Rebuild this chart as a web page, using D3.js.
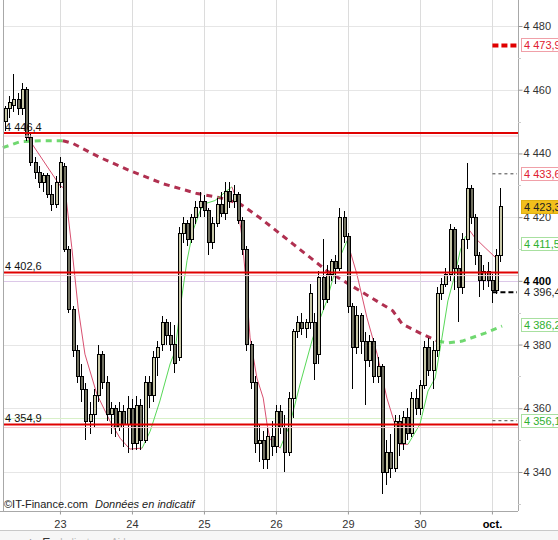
<!DOCTYPE html>
<html><head><meta charset="utf-8">
<script src="https://cdn.jsdelivr.net/npm/d3@7"></script>
<style>body{margin:0;background:#fff}svg{display:block;font-family:Arial,"Liberation Sans",sans-serif}</style>
</head><body><svg id="c" width="558" height="540"></svg>
<script>
// ---- DATA (30-min bars) ----
const opens =[4450,4454,4455,4457,4454,4460,4445,4437,4434,4431,4433,4427,4424,
4431,4436,4410,4391,4378,4370,4366,4356,4358,4364,4377,4368,4358,4360,4354,4359,4355,
4360,4349,4361,4350,4368,4364,4376,4380,4387,4383,4380,4376,4415,4418,4413,4420,4423,
4425,4422,4412,4418,4424,4421,4428,4425,4427,4419,4410,4380,4368,4349,4350,4344,4351,
4348,4359,4354,4346,4363,4384,4387,4385,4387,4387,4377,4401,4394,4402,4406,4404,4420,
4414,4392,4379,4389,4381,4375,4381,4370,4373,4340,4346,4341,4356,4349,4357,4352,4363,
4360,4367,4379,4372,4378,4396,4399,4402,4416,4404,4398,4413,4429,4420,4408,4400,4403,
4400,4397,4408];
const highs =[4455,4458,4465,4459,4462,4461,4446,4439,4436,4434,4434,4430,4433,
4439,4437,4411,4392,4380,4374,4368,4362,4366,4380,4378,4370,4362,4361,4362,4361,4364,
4363,4364,4363,4370,4370,4378,4381,4389,4388,4387,4386,4417,4420,4419,4421,4425,4428,
4427,4423,4420,4426,4428,4431,4431,4430,4428,4420,4411,4381,4370,4355,4353,4354,4356,
4361,4361,4358,4365,4385,4389,4390,4388,4399,4390,4403,4413,4405,4407,4408,4423,4422,
4415,4393,4392,4390,4384,4383,4382,4376,4374,4350,4352,4358,4358,4359,4360,4365,4366,
4369,4381,4382,4381,4398,4401,4404,4418,4417,4405,4415,4437,4430,4421,4409,4405,4406,
4402,4410,4429];
const lows  =[4447,4451,4453,4452,4452,4444,4436,4432,4429,4428,4426,4422,4423,
4429,4409,4390,4376,4368,4362,4350,4352,4354,4362,4366,4356,4352,4351,4353,4348,4346,
4347,4347,4347,4349,4360,4362,4370,4378,4380,4378,4371,4375,4412,4411,4412,4418,4420,
4420,4408,4410,4417,4420,4419,4423,4423,4418,4408,4378,4366,4346,4343,4341,4341,4345,
4346,4352,4340,4345,4357,4382,4383,4382,4385,4369,4374,4391,4393,4400,4399,4403,4412,
4390,4366,4377,4377,4361,4373,4368,4368,4333,4336,4338,4340,4345,4347,4350,4351,4358,
4358,4366,4370,4366,4376,4394,4398,4400,4397,4387,4396,4410,4418,4405,4395,4397,4398,
4393,4396,4406];
const closes=[4454,4456,4457,4454,4460,4445,4437,4434,4431,4433,4427,4424,4431,
4437,4410,4391,4378,4370,4366,4356,4358,4364,4377,4368,4358,4360,4354,4359,4355,4360,
4349,4361,4350,4368,4364,4376,4379,4387,4383,4380,4374,4415,4418,4413,4420,4423,4425,
4422,4412,4418,4424,4421,4428,4425,4427,4419,4410,4380,4368,4349,4350,4344,4351,4348,
4359,4354,4346,4363,4384,4387,4385,4387,4396,4374,4401,4394,4402,4406,4404,4420,4414,
4392,4379,4389,4381,4375,4381,4370,4373,4340,4346,4341,4356,4349,4357,4352,4363,4360,
4367,4379,4372,4378,4396,4399,4402,4416,4404,4398,4413,4429,4420,4408,4400,4403,4400,
4397,4408,4423.3];

const dayLabels=["23","24","25","26","29","30","oct."];
const dayStart =[13,30,47,64,81,98,115];
const yTicks=[4340,4360,4380,4400,4420,4440,4460,4480];
const minorTicks=[4330,4350,4370,4390,4410,4430,4450,4470];
const levels=[4446.4,4402.6,4354.9];

// thick dashed long moving average (vertices: [bar, value])
const maGreen1=[[-0.5,4441.8],[3.6,4443.7],[8.3,4444],[13.7,4444]];
const maRed   =[[13.7,4444],[16.1,4443.1],[22.5,4438.7],[29.5,4434.6],[37.3,4430.5],[45.4,4427.4],
[50.8,4426.1],[55.5,4424.2],[60.2,4419.8],[68,4411.6],[76.1,4403.1],[83.8,4396.9],[91.6,4390.6],
[93.8,4386.5],[98.5,4383.3],[102.3,4381.1]];
const maGreen2=[[102.3,4381.1],[104.6,4380.5],[108,4381.1],[113.4,4383.6],[117.4,4385.8]];

// thin short indicator line segments
const fastRed1=[[5.4,4445],[13,4429.9],[14.2,4428.9],[15.8,4410.4],[17.3,4391.5],[18.9,4377],[21.7,4364.5],
[24.8,4356],[27.2,4350.6],[29.5,4347.2],[32.4,4347.5]];
const fastGreen1=[[32.4,4347.5],[34.3,4352.8],[36.6,4362.3],[39,4373.9],[40.2,4378],[41.3,4390.6],[43,4406.3],
[44.4,4415.7],[46.1,4422],[47.2,4424.2],[49.6,4425.2],[52.4,4428.3],[53.6,4429.5]];
const fastRed2=[[53.6,4429.5],[54.8,4425.2],[56,4413.5],[56.7,4403.1],[57.9,4382.1],[59.5,4369.5],[61,4363.2],
[61.9,4355],[62.6,4350.3],[65,4347.5]];
const fastGreen2=[[65,4347.5],[67.3,4355],[69.7,4367.6],[72.7,4382.1],[76,4393.7],[78.4,4405.3],[80.8,4412.6]];
const fastRed3=[[80.8,4412.6],[83.1,4402.2],[85.5,4388.4],[87.9,4377],[90.2,4363.2],[92.1,4355],[93.3,4348.7],[95.2,4348.7]];
const fastGreen3=[[95.2,4348.7],[98,4355],[99.9,4365.4],[101.6,4369.5],[103.2,4382.1],[104.6,4393.7],[106.3,4402.2],
[107.5,4409.4],[108.6,4413.5],[109.8,4415.7]];
const fastRed4=[[109.8,4415.7],[111,4413.5],[113.4,4410.4],[116.2,4406.9]];

// right-hand value tags
const tagValues=[4473.9,4433.6,4423.3,4411.5,4396.4,4386.2,4356.1];
const tagKinds =["red","red","last","green","plain","green","green"];

// ---- DRAW ----
const svg=d3.select("#c");
const W=558,H=540, L=3, R=518, B=511;
const x=d3.scaleLinear().domain([0,117]).range([4.9,4.9+117*4.235]);
const y=d3.scaleLinear().domain([4340,4480]).range([472,26]);
const loc=d3.formatLocale({decimal:",",thousands:"\u00a0",grouping:[3],currency:["","€"]});
const fInt=loc.format(",.0f"), f1=loc.format(",.1f");

svg.append("rect").attr("width",W).attr("height",H).attr("fill","#fff");

const plot=svg.append("g");
// gridlines
plot.selectAll("line.hg").data(yTicks).join("line")
  .attr("x1",L).attr("x2",R).attr("y1",d=>Math.round(y(d))+0.5).attr("y2",d=>Math.round(y(d))+0.5)
  .attr("stroke",d=>d===4400?"#dcc8e8":"#e6e6e6");
plot.selectAll("line.vg").data(dayStart).join("line")
  .attr("x1",d=>Math.round(x(d))+0.5).attr("x2",d=>Math.round(x(d))+0.5).attr("y1",0).attr("y2",B)
  .attr("stroke","#dcdcdc");
plot.append("line").attr("x1",L).attr("x2",R).attr("y1",Math.round(y(4356.1))-2.5).attr("y2",Math.round(y(4356.1))-2.5)
  .attr("stroke","#d8f0c8");

// frame
svg.append("line").attr("x1",L+0.5).attr("x2",L+0.5).attr("y1",0).attr("y2",B).attr("stroke","#a8a8a8");
svg.append("line").attr("x1",R+0.5).attr("x2",R+0.5).attr("y1",0).attr("y2",B).attr("stroke","#a8a8a8");
svg.append("line").attr("x1",0).attr("x2",R).attr("y1",B+0.5).attr("y2",B+0.5).attr("stroke","#a8a8a8");

// long MA dashed
const ln=d3.line().x(d=>x(d[0])).y(d=>y(d[1]));
[[maGreen1,"#70d870"],[maRed,"#b03050"],[maGreen2,"#70d870"]].forEach(([pts,c])=>{
  plot.append("path").attr("d",ln(pts)).attr("fill","none").attr("stroke",c)
    .attr("stroke-width",3).attr("stroke-dasharray","6,5");
});

// thin indicator
[[fastRed1,"#d85070"],[fastGreen1,"#58d858"],[fastRed2,"#d85070"],[fastGreen2,"#58d858"],
 [fastRed3,"#d85070"],[fastGreen3,"#58d858"],[fastRed4,"#d85070"]].forEach(([pts,c])=>{
  plot.append("path").attr("d",ln(pts)).attr("fill","none").attr("stroke",c).attr("stroke-width",1);
});

// candles
const idx=d3.range(closes.length);
const cg=plot.append("g").attr("shape-rendering","crispEdges");
cg.selectAll("line.w").data(idx).join("line")
  .attr("x1",i=>Math.round(x(i))+0.5).attr("x2",i=>Math.round(x(i))+0.5)
  .attr("y1",i=>y(highs[i])).attr("y2",i=>y(lows[i])).attr("stroke","#000");
cg.selectAll("rect.b").data(idx).join("rect")
  .attr("x",i=>Math.round(x(i))-1).attr("width",3)
  .attr("y",i=>y(Math.max(opens[i],closes[i])))
  .attr("height",i=>Math.max(1,Math.abs(y(opens[i])-y(closes[i]))))
  .attr("fill",i=>closes[i]>=opens[i]?"#c8c8a8":"#707060")
  .attr("stroke","#000").attr("stroke-width",1);

// support/resistance levels
plot.selectAll("line.lv").data(levels).join("line")
  .attr("x1",L).attr("x2",R).attr("y1",d=>y(d)).attr("y2",d=>y(d))
  .attr("stroke","#e00000").attr("stroke-width",2);
plot.selectAll("line.lv2").data(levels).join("line")
  .attr("x1",L).attr("x2",R).attr("y1",d=>y(d)+3).attr("y2",d=>y(d)+3)
  .attr("stroke","#f6c8d0").attr("stroke-width",1);
plot.selectAll("text.lv").data(levels).join("text")
  .attr("x",5).attr("y",d=>y(d)-2.5).attr("font-size",11).attr("fill","#111")
  .text(d=>f1(d));

// right axis
const ax=svg.append("g").attr("transform",`translate(${R+0.5},0)`)
  .call(d3.axisRight(y).tickValues(yTicks).tickSize(4).tickFormat(fInt));
ax.select(".domain").remove();
ax.selectAll("line").attr("stroke","#999");
ax.selectAll("text").attr("font-size",11).attr("fill","#333").attr("x",5)
  .attr("font-family","Arial,'Liberation Sans',sans-serif")
  .attr("font-weight",d=>d===4400?"bold":"normal").attr("fill",d=>d===4400?"#000":"#333");
svg.append("g").selectAll("line").data(minorTicks).join("line")
  .attr("x1",R).attr("x2",R+3).attr("y1",d=>Math.round(y(d))+0.5).attr("y2",d=>Math.round(y(d))+0.5)
  .attr("stroke","#ccc");

// right markers
const mk=svg.append("g");
const mx1=x(115)+0.5, mx2=R-1;
mk.append("line").attr("x1",mx1).attr("x2",mx2).attr("y1",y(4473.9)).attr("y2",y(4473.9))
  .attr("stroke","#e00000").attr("stroke-width",4).attr("stroke-dasharray","6,3");
mk.append("line").attr("x1",mx1).attr("x2",mx2).attr("y1",y(4433.6)).attr("y2",y(4433.6))
  .attr("stroke","#444").attr("stroke-width",1).attr("stroke-dasharray","3,3");
mk.append("line").attr("x1",mx1).attr("x2",mx2).attr("y1",y(4396.4)).attr("y2",y(4396.4))
  .attr("stroke","#000").attr("stroke-width",2).attr("stroke-dasharray","5,3");
mk.append("line").attr("x1",mx1).attr("x2",mx2).attr("y1",y(4356.1)).attr("y2",y(4356.1))
  .attr("stroke","#444").attr("stroke-width",1).attr("stroke-dasharray","3,3");

const tagStyle={red:{fill:"#fff",stroke:"#f0a0a8",text:"#e02030"},
  green:{fill:"#fff",stroke:"#a8e0a0",text:"#30b030"},
  last:{fill:"#f2c01c",stroke:"#e0b010",text:"#222"},
  plain:{fill:"none",stroke:"none",text:"#222"}};
const tg=svg.append("g").selectAll("g").data(tagValues).join("g")
  .attr("transform",d=>`translate(${R+3},${Math.round(y(d))})`);
tg.append("rect").attr("x",0.5).attr("y",-6.5).attr("width",60).attr("height",13)
  .attr("fill",(d,i)=>tagStyle[tagKinds[i]].fill).attr("stroke",(d,i)=>tagStyle[tagKinds[i]].stroke);
tg.append("text").attr("x",3).attr("y",4).attr("font-size",11)
  .attr("fill",(d,i)=>tagStyle[tagKinds[i]].text).text(d=>f1(d));

// bottom axis
const bx=svg.append("g").attr("transform",`translate(0,${B+0.5})`)
  .call(d3.axisBottom(x).tickValues(dayStart).tickSize(3).tickFormat((d,i)=>dayLabels[i]));
bx.select(".domain").remove();
bx.selectAll("line").attr("stroke","#999");
bx.selectAll("text").attr("font-size",11).attr("fill","#333").attr("dy","0.95em")
  .attr("font-family","Arial,'Liberation Sans',sans-serif")
  .attr("font-weight",(d,i)=>i===6?"bold":"normal").attr("fill",(d,i)=>i===6?"#000":"#333");

// copyright
const ct=svg.append("text").attr("x",4).attr("y",508).attr("font-size",11).attr("fill","#222");
ct.append("tspan").text("©IT-Finance.com");
ct.append("tspan").attr("x",95).attr("font-style","italic").text("Données en indicatif");

// bottom strip
svg.append("line").attr("x1",0).attr("x2",W).attr("y1",530.5).attr("y2",530.5).attr("stroke","#c8c8c8");
svg.append("rect").attr("x",0).attr("y",531).attr("width",W).attr("height",9).attr("fill","#f6f6f6");
svg.append("text").attr("x",30).attr("y",547).attr("font-size",12).attr("fill","#333").text("\u25B6 E");
svg.append("text").attr("x",60).attr("y",546).attr("font-size",10).attr("fill","#bbb").text("Indicateurs   Aide");
</script></body></html>
